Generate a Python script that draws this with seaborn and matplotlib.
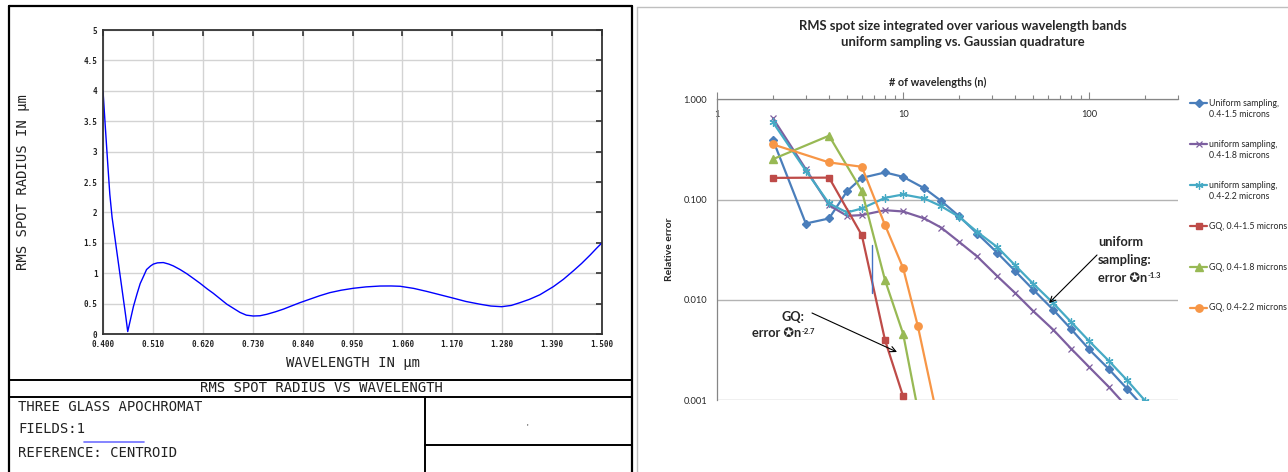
import numpy as np
import pandas as pd
import matplotlib
matplotlib.use("Agg")
import matplotlib.pyplot as plt
import seaborn as sns
from matplotlib.lines import Line2D
from matplotlib.ticker import FixedLocator, FixedFormatter, LogLocator, NullFormatter, NullLocator

# ---------------- Left chart data (Zemax RMS spot radius) ----------------
wavelength_um = [0.400, 0.405, 0.410, 0.415, 0.420, 0.430, 0.440, 0.450, 0.4545, 0.460,
                 0.467, 0.475, 0.482, 0.490, 0.496, 0.505, 0.511, 0.520, 0.533, 0.545,
                 0.555, 0.570, 0.585, 0.600, 0.614, 0.630, 0.643, 0.658, 0.673, 0.688,
                 0.702, 0.716, 0.731, 0.746, 0.761, 0.780, 0.798, 0.815, 0.834, 0.855,
                 0.878, 0.900, 0.925, 0.952, 0.980, 1.011, 1.035, 1.055, 1.085, 1.114,
                 1.143, 1.172, 1.200, 1.231, 1.255, 1.279, 1.300, 1.319, 1.340, 1.363,
                 1.393, 1.415, 1.437, 1.455, 1.474, 1.488, 1.500]
rms_radius_um = [4.00, 3.42, 2.85, 2.30, 1.92, 1.38, 0.84, 0.30, 0.04, 0.22,
                 0.45, 0.66, 0.83, 0.96, 1.06, 1.12, 1.15, 1.17, 1.175, 1.15,
                 1.12, 1.06, 0.99, 0.91, 0.834, 0.74, 0.67, 0.58, 0.49, 0.42,
                 0.355, 0.31, 0.296, 0.30, 0.324, 0.365, 0.41, 0.46, 0.515, 0.57,
                 0.63, 0.68, 0.72, 0.752, 0.775, 0.789, 0.79, 0.785, 0.75, 0.70,
                 0.645, 0.59, 0.535, 0.49, 0.46, 0.449, 0.47, 0.515, 0.57, 0.645,
                 0.78, 0.90, 1.04, 1.16, 1.30, 1.41, 1.50]
left_xticks = [0.400, 0.510, 0.620, 0.730, 0.840, 0.950, 1.060, 1.170, 1.280, 1.390, 1.500]
left_xtick_labels = ["0.400", "0.510", "0.620", "0.730", "0.840", "0.950",
                     "1.060", "1.170", "1.280", "1.390", "1.500"]
left_yticks = [0, 0.5, 1, 1.5, 2, 2.5, 3, 3.5, 4, 4.5, 5]
left_ytick_labels = ["0", "0.5", "1", "1.5", "2", "2.5", "3", "3.5", "4", "4.5", "5"]

# ---------------- Right chart data (relative error) ----------------
n_uniform = [2, 3, 4, 5, 6, 8, 10, 13, 16, 20, 25, 32, 40, 50, 64, 80, 100, 128, 160, 200]
err_uniform_15 = [0.394, 0.0578, 0.0649, 0.1216, 0.165, 0.187, 0.169, 0.130, 0.0973, 0.0684,
                  0.0459, 0.0296, 0.0194, 0.01264, 0.00798, 0.0051, 0.0032, 0.00202, 0.00129, 0.00082]
err_uniform_18 = [0.648, 0.2018, 0.0881, 0.0689, 0.0701, 0.0785, 0.0762, 0.0649, 0.0527, 0.0379,
                  0.0271, 0.0173, 0.0117, 0.00773, 0.00504, 0.00325, 0.00213, 0.00134, 0.00085, 0.00065]
err_uniform_22 = [0.591, 0.195, 0.0916, 0.0745, 0.0817, 0.1043, 0.1127, 0.1028, 0.0861, 0.0673,
                  0.0477, 0.0337, 0.0221, 0.0145, 0.0093, 0.0060, 0.00387, 0.00244, 0.00157, 0.00098]
n_gq_15 = [2, 4, 6, 8, 10]
err_gq_15 = [0.165, 0.166, 0.0442, 0.00394, 0.00109]
n_gq_18 = [2, 4, 6, 8, 10, 12]
err_gq_18 = [0.254, 0.435, 0.1225, 0.01567, 0.00459, 0.0008]
n_gq_22 = [2, 4, 6, 8, 10, 12, 16]
err_gq_22 = [0.356, 0.2355, 0.213, 0.0556, 0.0208, 0.00547, 0.00045]

legend_labels = ["Uniform sampling,\n0.4-1.5 microns",
                 "uniform sampling,\n0.4-1.8 microns",
                 "uniform sampling,\n0.4-2.2 microns",
                 "GQ, 0.4-1.5 microns",
                 "GQ, 0.4-1.8 microns",
                 "GQ, 0.4-2.2 microns"]

# ---------------- Figure ----------------
sns.set_style("white")
plt.rcParams["font.family"] = ["Lato", "DejaVu Sans"]

W, H = 1288, 472
fig = plt.figure(figsize=(W / 100, H / 100), dpi=100)


def fx(x):
    return x / W


def fy(y):
    return 1 - y / H


MONO = "DejaVu Sans Mono"
DARK = "#222222"

# ====== LEFT: Zemax-style panel ======
axL = fig.add_axes([fx(103), fy(334), (602 - 103) / W, (334 - 30) / H])
sns.lineplot(x=wavelength_um, y=rms_radius_um, ax=axL, color="#0000FF", lw=1.0,
             sort=False, estimator=None, errorbar=None)
axL.set_xlim(0.4, 1.5)
axL.set_ylim(0, 5)
axL.set_xticks(left_xticks)
axL.set_xticklabels(left_xtick_labels, fontfamily=MONO, fontweight="bold", fontsize=5.5, color=DARK)
axL.set_yticks(left_yticks)
axL.set_yticklabels(left_ytick_labels, fontfamily=MONO, fontweight="bold", fontsize=5.5, color=DARK)
axL.tick_params(axis="both", which="major", direction="in", length=4, width=1.2, color="#333333",
                top=True, right=True, pad=4)
axL.grid(True, color="#D3D3D3", lw=1.0)
for s in axL.spines.values():
    s.set_visible(True)
    s.set_color("#333333")
    s.set_linewidth(1.3)
axL.set_xlabel("WAVELENGTH IN μm", fontfamily=MONO, fontsize=10, color=DARK)
axL.xaxis.set_label_coords(0.5, -(363 - 334) / 304)
axL.xaxis.label.set_va("center")
axL.set_ylabel("RMS SPOT RADIUS IN μm", fontfamily=MONO, fontsize=10, color=DARK)
axL.yaxis.set_label_coords((23 - 103) / 499, 0.5)
axL.yaxis.label.set_va("center")


def fline(x0, y0, x1, y1, color="black", lw=1.5):
    fig.add_artist(Line2D([fx(x0), fx(x1)], [fy(y0), fy(y1)], color=color, lw=lw,
                          transform=fig.transFigure))


# outer frame and info box
fline(9, 6, 632, 6, lw=1.6)
fline(9, 6, 9, 472, lw=1.6)
fline(632, 6, 632, 472, lw=1.6)
fline(9, 380, 632, 380, lw=1.4)
fline(9, 397, 632, 397, lw=1.4)
fline(425, 397, 425, 472, lw=1.4)
fline(425, 445, 632, 445, lw=1.4)
fline(84, 442, 144, 442, color="#6F6FFF", lw=1.2)

fig.text(fx(321), fy(388.5), "RMS SPOT RADIUS VS WAVELENGTH", ha="center", va="center",
         fontfamily=MONO, fontsize=10, color=DARK)
fig.text(fx(18), fy(407), "THREE GLASS APOCHROMAT", ha="left", va="center",
         fontfamily=MONO, fontsize=10, color=DARK)
fig.text(fx(18), fy(429), "FIELDS:1", ha="left", va="center",
         fontfamily=MONO, fontsize=10, color=DARK)
fig.text(fx(18), fy(453), "REFERENCE: CENTROID", ha="left", va="center",
         fontfamily=MONO, fontsize=10, color=DARK)
fig.text(fx(527), fy(427), "'", ha="center", va="center", fontsize=6, color=DARK)

# ====== RIGHT: Excel-style panel ======
fline(637, 7, 1288, 7, color="#BFBFBF", lw=1.0)
fline(637, 7, 637, 472, color="#BFBFBF", lw=1.0)

axR = fig.add_axes([fx(717), fy(400), (1178 - 717) / W, (400 - 99.5) / H])

series = [
    (n_uniform, err_uniform_15, "#4A7EBB", "D", 3.8, 1.0),
    (n_uniform, err_uniform_18, "#7D5FA0", "x", 4.8, 0.9),
    (n_uniform, err_uniform_22, "#46AAC5", (6, 2, 0), 5.8, 0.9),
    (n_gq_15, err_gq_15, "#BE4B48", "s", 4.8, 1.0),
    (n_gq_18, err_gq_18, "#98B954", "^", 5.3, 1.0),
    (n_gq_22, err_gq_22, "#F79646", "o", 5.3, 1.0),
]
for xs, ys, col, mk, ms, mew in series:
    sns.lineplot(x=xs, y=ys, ax=axR, color=col, lw=1.6, marker=mk, markersize=ms,
                 markeredgecolor=col, markerfacecolor=col, markeredgewidth=mew,
                 sort=False, estimator=None, errorbar=None)

axR.set_xscale("log")
axR.set_yscale("log")
axR.set_xlim(1, 300)
axR.set_ylim(0.001, 1)

axR.xaxis.set_major_locator(FixedLocator([1, 10, 100]))
axR.xaxis.set_major_formatter(FixedFormatter(["1", "10", "100"]))
axR.xaxis.set_minor_locator(LogLocator(base=10, subs=np.arange(2, 10), numticks=20))
axR.xaxis.set_minor_formatter(NullFormatter())
axR.xaxis.set_ticks_position("top")
axR.tick_params(axis="x", which="major", direction="out", length=5, width=0.8, color="#868686",
                labelsize=6.7, top=True, bottom=False, labeltop=True, labelbottom=False, pad=-19)
axR.tick_params(axis="x", which="minor", direction="out", length=3, width=0.8, color="#868686",
                top=True, bottom=False)

axR.yaxis.set_major_locator(FixedLocator([0.001, 0.01, 0.1, 1]))
axR.yaxis.set_major_formatter(FixedFormatter(["0.001", "0.010", "0.100", "1.000"]))
axR.yaxis.set_minor_locator(NullLocator())
axR.tick_params(axis="y", which="major", direction="out", length=4, width=0.8, color="#868686",
                labelsize=6.7, pad=3)

axR.grid(False)
axR.yaxis.grid(True, which="major", color="#B3B3B3", lw=1.0)
for side in ["right", "bottom"]:
    axR.spines[side].set_visible(False)
for side in ["top", "left"]:
    axR.spines[side].set_visible(True)
    axR.spines[side].set_color("#868686")
    axR.spines[side].set_linewidth(0.9)

axR.xaxis.set_label_position("top")
axR.set_xlabel("# of wavelengths (n)", fontsize=7.8, fontweight="bold")
axR.xaxis.set_label_coords((938 - 717) / 461, 1 + (99.5 - 82) / 300.5)
axR.xaxis.label.set_va("center")
axR.set_ylabel("Relative error", fontsize=7.5, fontweight="bold")
axR.yaxis.set_label_coords((670 - 717) / 461, 0.5)
axR.yaxis.label.set_va("center")

fig.text(fx(963), fy(34), "RMS spot size integrated over various wavelength bands\n"
         "uniform sampling vs. Gaussian quadrature", ha="center", va="center",
         fontsize=9.4, fontweight="bold", linespacing=1.45)

# stray vertical mark
fline(872.3, 245, 872.3, 293, color="#4472C4", lw=1.0)

# annotations
FAM = ["Lato", "DejaVu Sans"]
fig.text(fx(1098), fy(242.5), "uniform", ha="left", va="center", fontsize=9.2, fontweight="bold", family=FAM)
fig.text(fx(1098), fy(260), "sampling:", ha="left", va="center", fontsize=9.2, fontweight="bold", family=FAM)
t_u = fig.text(fx(1098), fy(277.5), "error ✪n", ha="left", va="center", fontsize=9.2,
               fontweight="bold", family=FAM)
fig.text(fx(781), fy(317), "GQ:", ha="left", va="center", fontsize=9.2, fontweight="bold", family=FAM)
t_g = fig.text(fx(752), fy(333), "error ✪n", ha="left", va="center", fontsize=9.2,
               fontweight="bold", family=FAM)

fig.canvas.draw()
for t, sup in [(t_u, "-1.3"), (t_g, "-2.7")]:
    bb = t.get_window_extent()
    fig.text((bb.x1 + 0.5) / W, (bb.y1 - 1) / H, sup, ha="left", va="top", fontsize=5.5,
             fontweight="bold", family=FAM)

ap = dict(arrowstyle="->", color="black", lw=0.8, shrinkA=0, shrinkB=0)
axR.annotate("", xy=(fx(1049), fy(303)), xytext=(fx(1097), fy(255)),
             xycoords="figure fraction", textcoords="figure fraction", arrowprops=ap)
axR.annotate("", xy=(fx(897), fy(352)), xytext=(fx(812), fy(313)),
             xycoords="figure fraction", textcoords="figure fraction", arrowprops=ap)

# legend (Excel-style evenly spaced entries)
for i, ((xs, ys, col, mk, ms, mew), lab) in enumerate(zip(series, legend_labels)):
    y = 103 + 41 * i
    fig.add_artist(Line2D([fx(1190), fx(1198.5), fx(1207)], [fy(y)] * 3, color=col, lw=1.6,
                          marker=mk, markersize=ms, markeredgecolor=col, markerfacecolor=col,
                          markeredgewidth=mew, markevery=[1], transform=fig.transFigure))
    for k, line in enumerate(lab.split("\n")):
        fig.text(fx(1209), fy(y + 11.5 * k), line, ha="left", va="center", fontsize=6.3)

fig.savefig("out.png", dpi=100)
